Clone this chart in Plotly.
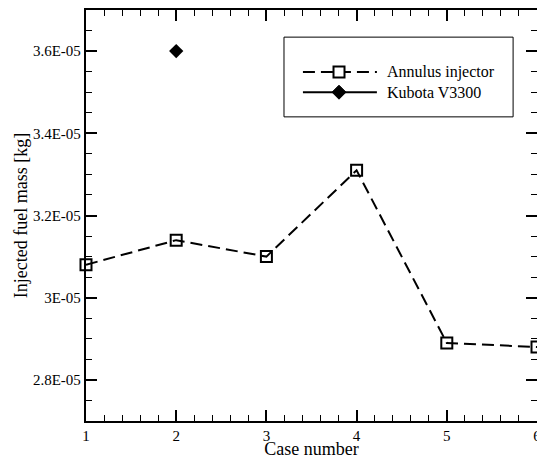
import plotly.graph_objects as go

# ---- data ----
cases = [1, 2, 3, 4, 5, 6]
annulus_mass = [3.08e-05, 3.14e-05, 3.10e-05, 3.31e-05, 2.89e-05, 2.88e-05]
kubota_case = [2]
kubota_mass = [3.60e-05]

y_tickvals = [2.8e-05, 3.0e-05, 3.2e-05, 3.4e-05, 3.6e-05]
y_ticktext = ["2.8E-05", "3E-05", "3.2E-05", "3.4E-05", "3.6E-05"]
x_tickvals = [1, 2, 3, 4, 5, 6]
x_ticktext = ["1", "2", "3", "4", "5", "6"]

series_names = ["Annulus injector", "Kubota V3300"]

FONT = "Liberation Serif"

fig = go.Figure()
fig.add_trace(go.Scatter(
    x=cases, y=annulus_mass, mode="lines+markers", name=series_names[0],
    line=dict(color="black", width=2, dash="12px,6px"),
    marker=dict(symbol="square-open", size=11, color="black", line=dict(width=2, color="black")),
    cliponaxis=False,
))
fig.add_trace(go.Scatter(
    x=kubota_case, y=kubota_mass, mode="lines+markers", name=series_names[1],
    line=dict(color="black", width=2),
    marker=dict(symbol="diamond", size=11, color="black"),
))

axis_common = dict(
    showline=True, linecolor="black", linewidth=2.3, mirror="ticks",
    ticks="inside", ticklen=11, tickwidth=2, tickcolor="black",
    showgrid=False, zeroline=False,
    tickfont=dict(family=FONT, size=15, color="black"),
    ticklabeloverflow="allow",
)

fig.update_xaxes(
    **axis_common,
    range=[1, 6], tickmode="array", tickvals=x_tickvals, ticktext=x_ticktext,
    minor=dict(ticks="inside", ticklen=6, tickwidth=1, tickcolor="black",
               tickmode="linear", tick0=1, dtick=0.2, showgrid=False),
    title=dict(text="Case number", font=dict(family=FONT, size=18, color="black"), standoff=2),
)
fig.update_yaxes(
    **axis_common,
    range=[2.7e-05, 3.7e-05], tickmode="array", tickvals=y_tickvals, ticktext=y_ticktext,
    minor=dict(ticks="inside", ticklen=6, tickwidth=1, tickcolor="black",
               tickmode="linear", tick0=2.7e-05, dtick=5e-07, showgrid=False),
    title=dict(text="Injected fuel mass [kg]", font=dict(family=FONT, size=18, color="black"), standoff=1),
)

# ---- custom legend (box, samples, labels) ----
box_x0, box_x1, box_y0, box_y1 = 0.439, 0.947, 0.740, 0.934
row_y = [0.849, 0.800]
line_x0, line_x1, mark_x, text_x = 0.481, 0.645, 0.561, 0.664

shapes = [
    dict(type="rect", xref="paper", yref="paper", x0=box_x0, x1=box_x1, y0=box_y0, y1=box_y1,
         line=dict(color="black", width=1), fillcolor="white", layer="below"),
    dict(type="line", xref="paper", yref="paper", x0=line_x0, x1=line_x1, y0=row_y[0], y1=row_y[0],
         line=dict(color="black", width=2, dash="12px,6px")),
    dict(type="line", xref="paper", yref="paper", x0=line_x0, x1=line_x1, y0=row_y[1], y1=row_y[1],
         line=dict(color="black", width=2)),
    dict(type="rect", xref="paper", yref="paper", xsizemode="pixel", ysizemode="pixel",
         xanchor=mark_x, yanchor=row_y[0], x0=-5.5, x1=5.5, y0=-5.5, y1=5.5,
         line=dict(color="black", width=2), fillcolor="white"),
    dict(type="path", xref="paper", yref="paper", xsizemode="pixel", ysizemode="pixel",
         xanchor=mark_x, yanchor=row_y[1], path="M -7 0 L 0 7 L 7 0 L 0 -7 Z",
         line=dict(color="black", width=1), fillcolor="black"),
]
annotations = [
    dict(xref="paper", yref="paper", x=text_x, y=row_y[i], text=series_names[i],
         showarrow=False, xanchor="left", yanchor="middle",
         font=dict(family=FONT, size=16, color="black"))
    for i in range(2)
]

fig.update_layout(
    width=537, height=459,
    margin=dict(l=86, r=0, t=10, b=38, autoexpand=False),
    paper_bgcolor="white", plot_bgcolor="white",
    showlegend=False,
    shapes=shapes, annotations=annotations,
    font=dict(family=FONT, color="black"),
)

fig.write_html(
    "out.html",
    config={"displayModeBar": False},
    post_script="document.body.style.margin='0';document.body.style.overflow='hidden';",
)
